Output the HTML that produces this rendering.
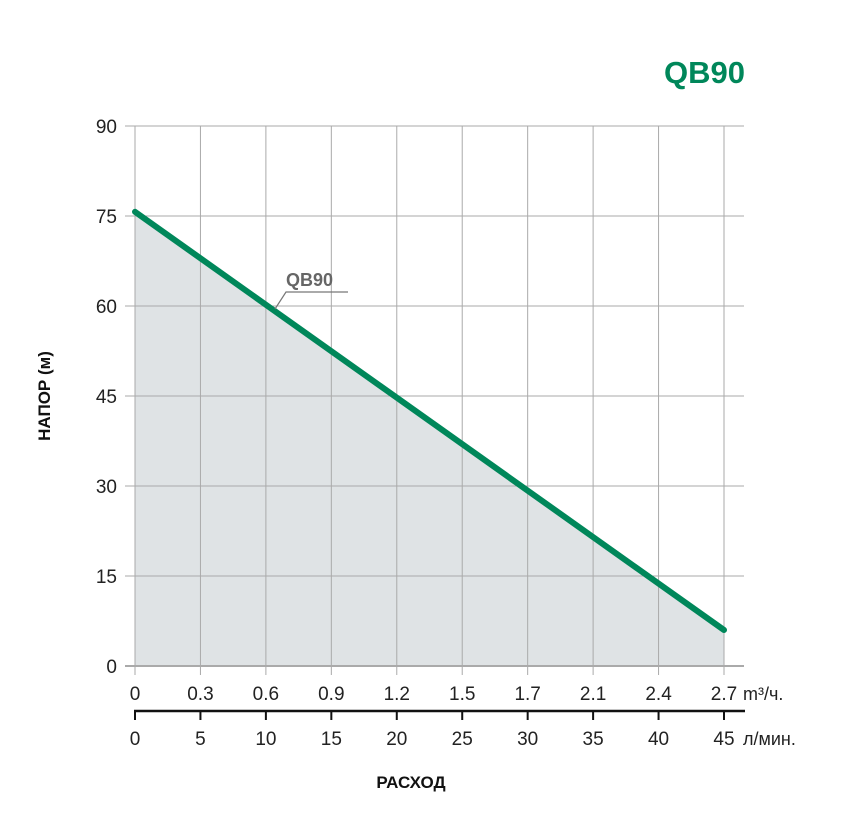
<!DOCTYPE html>
<html><head><meta charset="utf-8"><style>
html,body{margin:0;padding:0;background:#fff;}
svg{display:block;font-family:"Liberation Sans",sans-serif;}
</style></head><body>
<svg id="chart" width="841" height="828" viewBox="0 0 841 828" xmlns="http://www.w3.org/2000/svg">
<text x="745" y="83" text-anchor="end" font-size="31" font-weight="bold" fill="#00875a">QB90</text>
<text transform="translate(50,396) rotate(-90)" text-anchor="middle" font-size="17" font-weight="bold" fill="#111">НАПОР (м)</text>
<text x="411" y="788" text-anchor="middle" font-size="17" font-weight="bold" fill="#111">РАСХОД</text>
<g id="grid"></g><g id="plot"></g><g id="axes"></g>
</svg>
<script>
const yTicks=[0,15,30,45,60,75,90];
const flowLpm=[0,5,10,15,20,25,30,35,40,45];
const flowM3Labels=["0","0.3","0.6","0.9","1.2","1.5","1.7","2.1","2.4","2.7"];
const seriesFlow=[0,45];
const seriesHead=[75.7,6];
const NS="http://www.w3.org/2000/svg";
const x=v=>135+v*(724-135)/45;
const y=v=>666-v*6;
function mk(tag,attrs,parent,txt){const e=document.createElementNS(NS,tag);for(const k in attrs)e.setAttribute(k,attrs[k]);if(txt!==undefined)e.textContent=txt;parent.appendChild(e);return e;}
const grid=document.getElementById('grid'),plot=document.getElementById('plot'),axes=document.getElementById('axes');
// fill area
let pts=seriesFlow.map((f,i)=>x(f)+','+y(seriesHead[i])).join(' ');
pts+=' '+x(seriesFlow[seriesFlow.length-1])+','+y(0)+' '+x(seriesFlow[0])+','+y(0);
const area=mk('polygon',{points:pts,fill:'#dfe3e5'},grid);


yTicks.forEach(t=>{
 const l=mk('line',{x1:125,x2:744,y1:y(t),y2:y(t),stroke:'#aaa','stroke-width':t===0?2:1},grid);
 
 
 const tx=mk('text',{x:117,y:y(t)+7,'text-anchor':'end','font-size':19,fill:'#222'},axes,String(t));
 
 
});
flowLpm.forEach((f,i)=>{
 const l=mk('line',{x1:x(f),x2:x(f),y1:126,y2:675,stroke:'#aaa','stroke-width':1},grid);
 
 
 const t1=mk('text',{x:x(f),y:700,'text-anchor':'middle','font-size':19,fill:'#222'},axes,flowM3Labels[i]);
 
 
 const tk=mk('line',{x1:x(f),x2:x(f),y1:711,y2:720,stroke:'#111','stroke-width':2},axes);
 
 
 const t2=mk('text',{x:x(f),y:745,'text-anchor':'middle','font-size':19,fill:'#222'},axes,String(f));
 
 
});
const ax2=mk('line',{x1:134,x2:745,y1:711,y2:711,stroke:'#111','stroke-width':2.5},axes);


const u1=mk('text',{x:743,y:700,'font-size':18,fill:'#222'},axes,'m³/ч.');


const u2=mk('text',{x:743,y:745,'font-size':18,fill:'#222'},axes,'л/мин.');


const line=mk('polyline',{points:seriesFlow.map((f,i)=>x(f)+','+y(seriesHead[i])).join(' '),fill:'none',stroke:'#00875a','stroke-width':6,'stroke-linecap':'round'},plot);


const ld=mk('polyline',{points:'275,309 286,292 348,292',fill:'none',stroke:'#777','stroke-width':1.2},plot);


const lb=mk('text',{x:286,y:286,'font-size':18,'font-weight':'bold',fill:'#666'},plot,'QB90');


</script>
</body></html>
